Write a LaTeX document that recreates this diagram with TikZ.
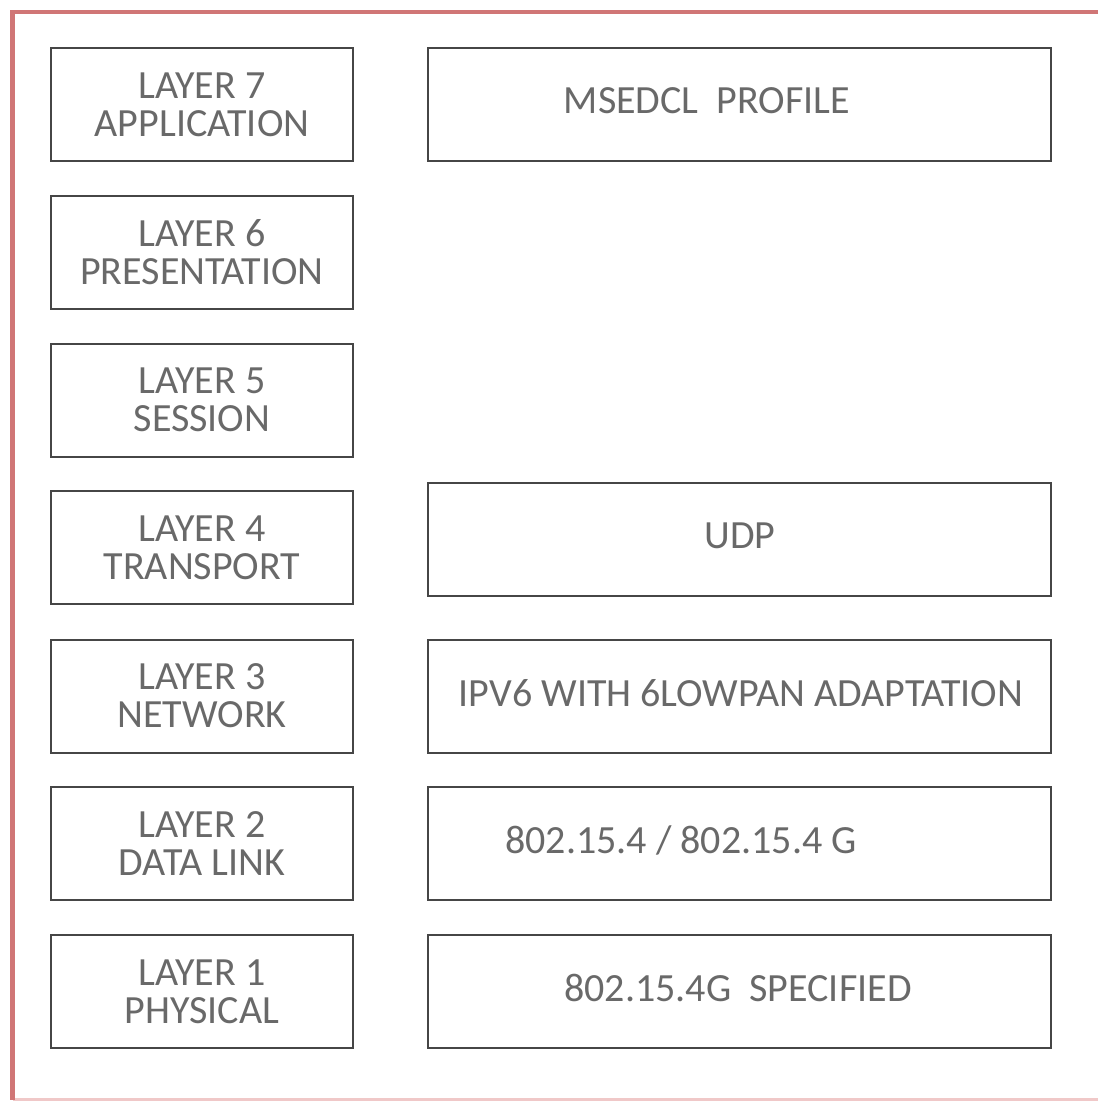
\documentclass[tikz,border=0pt]{standalone}
\usepackage{fontspec}
\setmainfont{Carlito}
\definecolor{frame}{RGB}{208,118,118}
\definecolor{framelight}{RGB}{240,200,200}
\definecolor{boxline}{RGB}{70,70,70}
\definecolor{txt}{RGB}{105,105,105}

\begin{document}
\begin{tikzpicture}[x=0.5pt, y=-0.5pt,
    layerbox/.style={draw=boxline, line width=1pt, minimum width=151pt, minimum height=56.5pt, inner sep=0pt},
    protobox/.style={draw=boxline, line width=1pt, minimum width=311.5pt, minimum height=56.5pt, inner sep=0pt},
    lbl/.style={text=txt, align=center, font=\fontsize{20}{19}\selectfont, inner sep=0pt}]
    \useasboundingbox (0,0) rectangle (1098,1102);
    % outer frame, open on the right
    \draw[framelight, line width=1.5pt] (12.5,1099.5) -- (1098,1099.5);
    \draw[frame, line width=2.4pt] (1098,12) -- (12.5,12) -- (12.5,1100);

    % left column: the seven layers
    \node[layerbox] (l7) at (202,104.5) {};
    \node[layerbox] (l6) at (202,252.5) {};
    \node[layerbox] (l5) at (202,400) {};
    \node[layerbox] (l4) at (202,547.5) {};
    \node[layerbox] (l3) at (202,696) {};
    \node[layerbox] (l2) at (202,843.5) {};
    \node[layerbox] (l1) at (202,991.5) {};

    \node[lbl] at (l7) {LAYER 7\\APPLICATION};
    \node[lbl] at (l6) {LAYER 6\\PRESENTATION};
    \node[lbl] at (l5) {LAYER 5\\SESSION};
    \node[lbl] at (l4) {LAYER 4\\TRANSPORT};
    \node[lbl] at (l3) {LAYER 3\\NETWORK};
    \node[lbl] at (l2) {LAYER 2\\DATA LINK};
    \node[lbl] at (l1) {LAYER 1\\PHYSICAL};

    % right column: protocols
    \node[protobox] (prof) at (739.5,104.5) {};
    \node[protobox] (udp)  at (739.5,539.5) {};
    \node[protobox] (ipv6) at (739.5,696) {};
    \node[protobox] (mac)  at (739.5,843.5) {};
    \node[protobox] (phy)  at (739.5,991.5) {};

    \node[lbl] at (707,101) {MSEDCL\ \ PROFILE};
    \node[lbl] at (740,536) {UDP};
    \node[lbl] at (741,693) {IPV6 WITH 6LOWPAN ADAPTATION};
    \node[lbl] at (681,840) {802.15.4 / 802.15.4 G};
    \node[lbl] at (738,988) {802.15.4G\ \ SPECIFIED};
\end{tikzpicture}
\end{document}
